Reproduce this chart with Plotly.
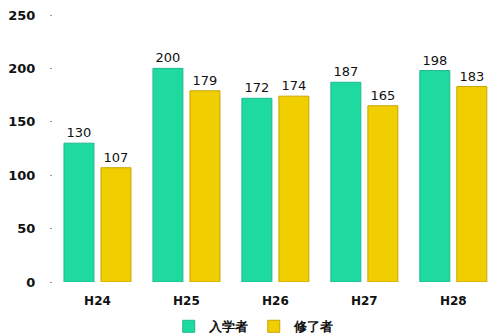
import plotly.graph_objects as go

categories = ["H24", "H25", "H26", "H27", "H28"]
entrants = [130, 200, 172, 187, 198]
completers = [107, 179, 174, 165, 183]
series_names = ["入学者", "修了者"]
y_ticks = [0, 50, 100, 150, 200, 250]

green = "#1ED9A0"
yellow = "#F0CE00"

fig = go.Figure()
for name, vals, col, line in [
    (series_names[0], entrants, green, "#22B890"),
    (series_names[1], completers, yellow, "#C9A400"),
]:
    fig.add_trace(go.Bar(
        x=categories, y=vals, name=name,
        marker=dict(color=col, line=dict(color=line, width=1)),
        text=[str(v) for v in vals], textposition="outside",
        textfont=dict(family="DejaVu Sans", size=13, color="#111111"),
        cliponaxis=False,
    ))

fig.update_layout(
    width=488, height=333,
    margin=dict(l=53, r=0, t=15, b=51, autoexpand=False),
    paper_bgcolor="white", plot_bgcolor="white",
    barmode="group", bargap=0.168, bargroupgap=0.19,
    showlegend=True,
    legend=dict(orientation="h", x=0.52, xref="container", xanchor="center",
                y=0.02, yref="container", yanchor="middle",
                font=dict(family="DejaVu Sans", size=13, color="#111111", weight="bold"),
                itemwidth=30, traceorder="normal", tracegroupgap=0,
                bgcolor="rgba(0,0,0,0)"),
    font=dict(family="DejaVu Sans", color="#111111"),
)
fig.update_xaxes(range=[-0.5, 4.39], showline=False, ticks="",
                 ticklabelstandoff=10,
                 tickfont=dict(family="DejaVu Sans", size=12, weight="bold"),
                 showgrid=False)
fig.update_yaxes(range=[0, 250], tickvals=y_ticks, showgrid=False, zeroline=False,
                 showline=False, ticks="outside", ticklen=2, tickcolor="#999999",
                 ticklabelstandoff=12,
                 tickfont=dict(family="DejaVu Sans", size=13, weight="bold"))

fig.write_html("out.html")
